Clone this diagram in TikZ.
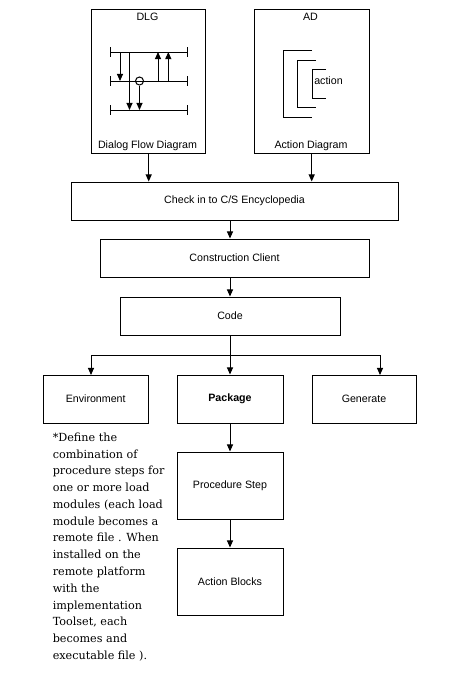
\documentclass[tikz,border=0pt]{standalone}
\usepackage{fontspec}
\setmainfont{Liberation Sans}
\newfontfamily\notefont{DejaVu Serif}
\usetikzlibrary{arrows.meta}
\tikzset{
    block/.style={draw,line width=0.75pt,inner sep=0pt,font=\fontsize{8}{9}\selectfont},
    caption/.style={inner sep=0pt,font=\fontsize{8}{9}\selectfont},
    flow/.style={line width=0.75pt,-{Triangle[width=4.6pt,length=5.4pt]}},
    rail/.style={line width=0.75pt},
}
\begin{document}
\begin{tikzpicture}[x=0.75pt,y=-0.75pt]
    \useasboundingbox (0,0) rectangle (471,679);

    % top diagrams
    \node[block,minimum width=85.5pt,minimum height=108pt] (dlg) at (148.7,81) {};
    \node[block,minimum width=86pt,minimum height=108pt] (ad) at (311.7,81) {};
    \node[caption] (dlgtitle) at (147.5,16.5) {DLG};
    \node[caption] (dlgname) at (147.5,145.5) {Dialog Flow Diagram};
    \node[caption] (adtitle) at (310.5,16.5) {AD};
    \node[caption] (adname) at (311,145.5) {Action Diagram};

    % dialog flow
    \draw[rail] (110.7,52) -- (187.3,52);
    \draw[rail] (110.7,81) -- (187.3,81);
    \draw[rail] (110.7,110) -- (187.3,110);
    \draw[rail] (110.7,47) -- (110.7,57);
    \draw[rail] (187.3,47) -- (187.3,57);
    \draw[rail] (110.7,76) -- (110.7,86);
    \draw[rail] (187.3,76) -- (187.3,86);
    \draw[rail] (110.7,105) -- (110.7,115);
    \draw[rail] (187.3,105) -- (187.3,115);
    \node[draw,circle,line width=0.75pt,inner sep=0pt,minimum size=6pt] (stop) at (139.5,81) {};
    \draw[flow] (120,52) -- (120,81);
    \draw[flow] (129.5,52) -- (129.5,110);
    \draw[flow] (stop) -- (139.5,110);
    \draw[flow] (158,81) -- (158,52);
    \draw[flow] (168.3,81) -- (168.3,52);

    % action brackets
    \draw[rail] (312,50) -- (283.3,50) -- (283.3,117) -- (312,117);
    \draw[rail] (316,60) -- (297.3,60) -- (297.3,107.5) -- (316,107.5);
    \draw[rail] (326,69.5) -- (312.3,69.5) -- (312.3,98.5) -- (326,98.5);
    \node[caption,anchor=west] (action) at (314,80.5) {action};

    % main blocks
    \node[block,minimum width=245.25pt,minimum height=28.5pt] (checkin) at (234.5,201) {Check in to C/S Encyclopedia};
    \node[block,minimum width=201.75pt,minimum height=28.5pt] (client) at (234.5,258) {Construction Client};
    \node[block,minimum width=165pt,minimum height=28.5pt] (code) at (230,316) {Code};
    \node[block,minimum width=78.75pt,minimum height=36pt] (env) at (95.7,399) {Environment};
    \node[block,minimum width=79.5pt,minimum height=36pt] (package) at (230,399) {\bfseries Package};
    \node[block,minimum width=78pt,minimum height=36pt] (generate) at (364,399) {Generate};
    \node[block,minimum width=79.5pt,minimum height=50.25pt] (step) at (230,485.5) {Procedure Step};
    \node[block,minimum width=79.5pt,minimum height=50.25pt] (blocks) at (230,581.5) {Action Blocks};

    % connectors
    \coordinate (fork) at (230,355);
    \coordinate (envin) at (91,375);
    \coordinate (genin) at (380,375);
    \draw[flow] (dlg.south) -- (dlg.south |- checkin.north);
    \draw[flow] (ad.south) -- (ad.south |- checkin.north);
    \draw[flow] (checkin.south -| code.south) -- (client.north -| code.north);
    \draw[flow] (client.south -| code.south) -- (code.north);
    \draw[flow] (code.south) -- (package.north);
    \draw[flow] (fork) -| (envin);
    \draw[flow] (fork) -| (genin);
    \draw[flow] (package.south) -- (step.north);
    \draw[flow] (step.south) -- (blocks.north);

    % note
    \node[anchor=north west,inner sep=0pt,align=left,font=\notefont\fontsize{8.4}{12.58}\selectfont] (note) at (52.5,432.5) {*Define the\\combination of\\procedure steps for\\one or more load\\modules (each load\\module becomes a\\remote file . When\\installed on the\\remote platform\\with the\\implementation\\Toolset, each\\becomes and\\executable file ).};
\end{tikzpicture}
\end{document}
